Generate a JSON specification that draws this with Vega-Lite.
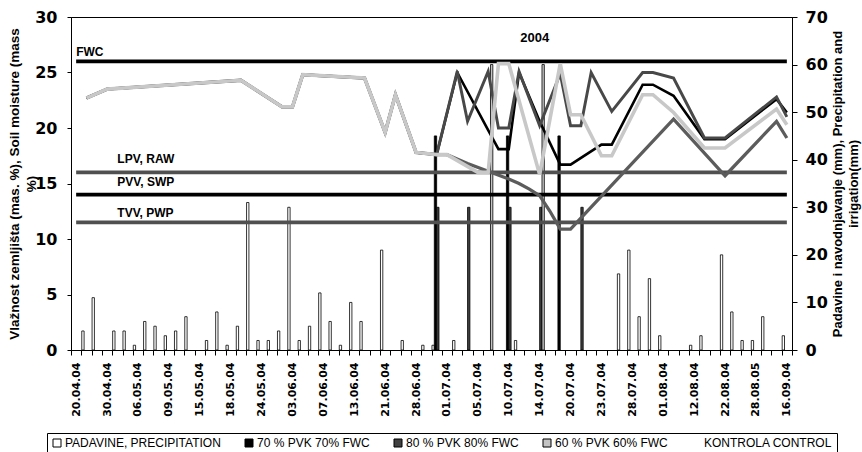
{
  "$schema": "https://vega.github.io/schema/vega-lite/v6.json",
  "width": 721,
  "height": 333,
  "autosize": {"type": "none"},
  "padding": {"left": 71, "top": 17, "right": 70, "bottom": 102},
  "config": {
    "font": "Liberation Sans",
    "view": {"stroke": "black", "strokeWidth": 1},
    "axis": {
      "grid": false,
      "domainColor": "black",
      "tickColor": "black",
      "labelColor": "black",
      "titleColor": "black",
      "labelFont": "DejaVu Sans",
      "titleFont": "Liberation Sans",
      "labelFontWeight": "bold",
      "titleFontWeight": "bold"
    }
  },
  "data": {
    "values": [
      {"i": 0, "d": "20.04.04"},
      {"i": 1, "d": "25.04.04", "p": 4, "m70": 22.7, "m80": 22.7, "m60": 22.7, "mk": 22.7},
      {"i": 2, "d": "27.04.04", "p": 11},
      {"i": 3, "d": "30.04.04", "m70": 23.5, "m80": 23.5, "m60": 23.5, "mk": 23.5},
      {"i": 4, "d": "02.05.04", "p": 4},
      {"i": 5, "d": "04.05.04", "p": 4},
      {"i": 6, "d": "06.05.04", "p": 1},
      {"i": 7, "d": "07.05.04", "p": 6},
      {"i": 8, "d": "08.05.04", "p": 5},
      {"i": 9, "d": "09.05.04", "p": 3},
      {"i": 10, "d": "11.05.04", "p": 4},
      {"i": 11, "d": "13.05.04", "p": 7},
      {"i": 12, "d": "15.05.04"},
      {"i": 13, "d": "16.05.04", "p": 2},
      {"i": 14, "d": "17.05.04", "p": 8},
      {"i": 15, "d": "18.05.04", "p": 1},
      {"i": 16, "d": "20.05.04", "p": 5, "m70": 24.3, "m80": 24.3, "m60": 24.3, "mk": 24.3},
      {"i": 17, "d": "22.05.04", "p": 31},
      {"i": 18, "d": "24.05.04", "p": 2},
      {"i": 19, "d": "27.05.04", "p": 2},
      {"i": 20, "d": "31.05.04", "p": 4, "m70": 21.9, "m80": 21.9, "m60": 21.9, "mk": 21.9},
      {"i": 21, "d": "03.06.04", "p": 30, "m70": 21.9, "m80": 21.9, "m60": 21.9, "mk": 21.9},
      {"i": 22, "d": "04.06.04", "p": 2, "m70": 24.8, "m80": 24.8, "m60": 24.8, "mk": 24.8},
      {"i": 23, "d": "05.06.04", "p": 5},
      {"i": 24, "d": "07.06.04", "p": 12},
      {"i": 25, "d": "09.06.04", "p": 6},
      {"i": 26, "d": "11.06.04", "p": 1},
      {"i": 27, "d": "13.06.04", "p": 10},
      {"i": 28, "d": "16.06.04", "p": 6, "m70": 24.5, "m80": 24.5, "m60": 24.5, "mk": 24.5},
      {"i": 29, "d": "19.06.04"},
      {"i": 30, "d": "21.06.04", "p": 21, "m70": 19.6, "m80": 19.6, "m60": 19.6, "mk": 19.6},
      {"i": 31, "d": "24.06.04", "m70": 23.0, "m80": 23.0, "m60": 23.0, "mk": 23.0},
      {"i": 32, "d": "26.06.04", "p": 2},
      {"i": 33, "d": "28.06.04", "m70": 17.8, "m80": 17.8, "m60": 17.8, "mk": 17.8},
      {"i": 34, "d": "29.06.04", "p": 1},
      {"i": 35, "d": "30.06.04", "p": 1, "b70": 45, "b80": 30, "m70": 17.6, "m80": 17.6, "m60": 17.6, "mk": 17.6},
      {"i": 36, "d": "01.07.04", "m60": 17.6, "mk": 17.6},
      {"i": 37, "d": "03.07.04", "p": 2, "m70": 25.0, "m80": 25.1},
      {"i": 38, "d": "04.07.04", "b80": 30, "m80": 20.6, "mk": 16.8},
      {"i": 39, "d": "05.07.04", "m60": 16.0},
      {"i": 40, "d": "07.07.04", "b60": 60, "m70": 19.8, "m80": 25.1, "m60": 16.0, "mk": 16.1},
      {"i": 41, "d": "08.07.04", "m70": 18.1, "m80": 20.0, "m60": 25.8},
      {"i": 42, "d": "10.07.04", "b70": 45, "b80": 30, "m70": 18.1, "m80": 20.0, "m60": 25.8, "mk": 15.4},
      {"i": 43, "d": "11.07.04", "p": 2, "m70": 25.0, "m80": 25.1, "mk": 15.0},
      {"i": 44, "d": "13.07.04", "mk": 14.5},
      {"i": 45, "d": "14.07.04", "b80": 30, "b60": 60, "m70": 20.6, "m80": 20.2, "m60": 15.8, "mk": 13.9},
      {"i": 46, "d": "16.07.04", "mk": 12.5},
      {"i": 47, "d": "18.07.04", "b70": 45, "m70": 16.7, "m80": 24.9, "m60": 25.8, "mk": 10.9},
      {"i": 48, "d": "20.07.04", "m70": 16.7, "m80": 20.2, "m60": 21.2, "mk": 10.9},
      {"i": 49, "d": "21.07.04", "b80": 30, "m80": 20.2, "m60": 21.2},
      {"i": 50, "d": "22.07.04", "m80": 25.0},
      {"i": 51, "d": "23.07.04", "m70": 18.5, "m60": 17.5},
      {"i": 52, "d": "25.07.04", "m70": 18.5, "m80": 21.5, "m60": 17.5},
      {"i": 53, "d": "27.07.04", "p": 16},
      {"i": 54, "d": "28.07.04", "p": 21},
      {"i": 55, "d": "29.07.04", "p": 7, "m70": 23.9, "m80": 25.0, "m60": 23.0},
      {"i": 56, "d": "30.07.04", "p": 15, "m70": 23.9, "m80": 25.0, "m60": 23.0},
      {"i": 57, "d": "01.08.04", "p": 3},
      {"i": 58, "d": "04.08.04", "m70": 22.9, "m80": 24.5, "m60": 21.4, "mk": 20.8},
      {"i": 59, "d": "08.08.04"},
      {"i": 60, "d": "12.08.04", "p": 1},
      {"i": 61, "d": "15.08.04", "p": 3, "m70": 19.0, "m80": 19.1, "m60": 18.2},
      {"i": 62, "d": "19.08.04"},
      {"i": 63, "d": "22.08.04", "p": 20, "m70": 19.0, "m80": 19.1, "m60": 18.2, "mk": 15.7},
      {"i": 64, "d": "24.08.04", "p": 8},
      {"i": 65, "d": "26.08.04", "p": 2},
      {"i": 66, "d": "28.08.05", "p": 2},
      {"i": 67, "d": "02.09.04", "p": 7},
      {"i": 68, "d": "09.09.04", "m70": 22.6, "m80": 22.8, "m60": 21.7, "mk": 20.6},
      {"i": 69, "d": "16.09.04", "p": 3, "m70": 21.4, "m80": 21.0, "m60": 20.3, "mk": 19.1}
    ]
  },
  "layer": [
    {
      "transform": [{"fold": ["p", "b70", "b80", "b60"], "as": ["s", "mm"]}],
      "mark": {"type": "bar", "stroke": "black", "strokeWidth": 0.8, "invalid": "break-paths-show-domains"},
      "encoding": {
        "x": {
          "field": "d",
          "type": "ordinal",
          "sort": {"field": "i", "op": "min"},
          "scale": {"paddingInner": 0, "paddingOuter": 0},
          "axis": {
            "title": null,
            "tickBand": "extent",
            "tickSize": 5,
            "labelAngle": -90,
            "labelAlign": "right",
            "labelBaseline": "middle",
            "labelFontSize": 11,
            "labelPadding": 7,
            "labelOverlap": false,
            "labelExpr": "round(datum.index * 69) % 3 == 0 ? datum.label : ''"
          }
        },
        "xOffset": {
          "field": "s",
          "scale": {"domain": ["p", "b70", "b80", "b60"], "paddingInner": 0, "paddingOuter": 0.2}
        },
        "y": {
          "field": "mm",
          "type": "quantitative",
          "scale": {"domain": [0, 70]},
          "axis": {
            "orient": "right",
            "values": [0, 10, 20, 30, 40, 50, 60, 70],
            "tickSize": 5,
            "labelFontSize": 16,
            "labelPadding": 8,
            "title": ["Padavine i navodnjavanje (mm), Precipitation and", "irrigation(mm)"],
            "titleFontSize": 13,
            "titleLineHeight": 16,
            "titleAngle": 270,
            "titleBaseline": "top",
            "titlePadding": -12
          }
        },
        "fill": {
          "field": "s",
          "scale": {
            "domain": ["p", "b70", "b80", "b60", "k"],
            "range": ["white", "black", "#404040", "#c4c4c4", "transparent"]
          },
          "legend": {
            "title": null,
            "orient": "none",
            "legendX": -24,
            "legendY": 416,
            "direction": "horizontal",
            "symbolType": "square",
            "symbolSize": 64,
            "symbolStrokeWidth": 1,
            "symbolStrokeColor": "black",
            "labelFontSize": 12,
            "labelFont": "Liberation Sans",
            "labelColor": "black",
            "labelOffset": 2,
            "columnPadding": 22,
            "strokeColor": "black",
            "padding": 4,
            "labelExpr": "{'p': 'PADAVINE, PRECIPITATION', 'b70': '70 % PVK 70% FWC', 'b80': '80 % PVK 80% FWC', 'b60': '60 % PVK 60% FWC', 'k': 'KONTROLA CONTROL'}[datum.label]",
            "encode": {
              "symbols": {
                "update": {
                  "strokeOpacity": {"signal": "datum.value == 'k' ? 0 : 1"},
                  "opacity": {"signal": "datum.value == 'k' ? 0 : 1"}
                }
              }
            }
          }
        }
      }
    },
    {
      "layer": [
        {
          "data": {
            "values": [
              {"i": 0, "d": "20.04.04", "name": "FWC", "v": 26},
              {"i": 69, "d": "16.09.04", "name": "FWC", "v": 26},
              {"i": 0, "d": "20.04.04", "name": "LPV, RAW", "v": 16},
              {"i": 69, "d": "16.09.04", "name": "LPV, RAW", "v": 16},
              {"i": 0, "d": "20.04.04", "name": "PVV, SWP", "v": 14},
              {"i": 69, "d": "16.09.04", "name": "PVV, SWP", "v": 14},
              {"i": 0, "d": "20.04.04", "name": "TVV, PWP", "v": 11.5},
              {"i": 69, "d": "16.09.04", "name": "TVV, PWP", "v": 11.5}
            ]
          },
          "mark": {"type": "line", "strokeWidth": 3.6},
          "encoding": {
            "x": {"field": "d", "type": "ordinal", "sort": {"field": "i", "op": "min"}},
            "y": {
              "field": "v",
              "type": "quantitative",
              "scale": {"domain": [0, 30]},
              "axis": {
                "values": [0, 5, 10, 15, 20, 25, 30],
                "tickSize": 4,
                "labelFontSize": 16,
                "labelPadding": 10,
                "title": ["Vlažnost zemljišta  (mas. %), Soil moisture (mass", "%)"],
                "titleFontSize": 13.5,
                "titleLineHeight": 17,
                "titleAngle": 270,
                "titleBaseline": "bottom",
                "titlePadding": -4
              }
            },
            "detail": {"field": "name"},
            "stroke": {
              "field": "name",
              "scale": {"domain": ["FWC", "LPV, RAW", "PVV, SWP", "TVV, PWP"], "range": ["black", "#505050", "black", "#505050"]},
              "legend": null
            }
          }
        },
        {
          "transform": [{"fold": ["m70", "m80", "mk", "m60"], "as": ["s", "pct"]}],
          "mark": {"type": "line", "invalid": "filter", "strokeJoin": "miter"},
          "encoding": {
            "x": {"field": "d", "type": "ordinal", "sort": {"field": "i", "op": "min"}},
            "y": {"field": "pct", "type": "quantitative", "title": ["Vlažnost zemljišta  (mas. %), Soil moisture (mass", "%)"]},
            "color": {
              "field": "s",
              "scale": {"domain": ["m70", "m80", "mk", "m60"], "range": ["black", "#484848", "#5c5c5c", "#c8c8c8"]},
              "legend": null
            },
            "strokeWidth": {
              "field": "s",
              "scale": {"domain": ["m70", "m80", "mk", "m60"], "range": [2.6, 3.6, 1.6, 2.6]},
              "legend": null
            }
          }
        },
        {
          "data": {
            "values": [
              {"i": 0, "d": "20.04.04", "name": "FWC", "v": 26},
              {"i": 4, "d": "02.05.04", "name": "TVV, PWP", "v": 11.5}
            ]
          },
          "mark": {"type": "text", "align": "left", "baseline": "alphabetic", "fontWeight": "bold", "fontSize": 12, "dy": -5, "color": "black"},
          "encoding": {
            "x": {"field": "d", "type": "ordinal", "sort": {"field": "i", "op": "min"}},
            "y": {"field": "v", "type": "quantitative", "title": ["Vlažnost zemljišta  (mas. %), Soil moisture (mass", "%)"]},
            "text": {"field": "name"}
          }
        },
        {
          "data": {
            "values": [
              {"i": 4, "d": "02.05.04", "name": "LPV, RAW", "v": 16},
              {"i": 4, "d": "02.05.04", "name": "PVV, SWP", "v": 14}
            ]
          },
          "mark": {"type": "text", "align": "left", "baseline": "alphabetic", "fontWeight": "bold", "fontSize": 12, "dy": -9, "color": "black"},
          "encoding": {
            "x": {"field": "d", "type": "ordinal", "sort": {"field": "i", "op": "min"}},
            "y": {"field": "v", "type": "quantitative", "title": ["Vlažnost zemljišta  (mas. %), Soil moisture (mass", "%)"]},
            "text": {"field": "name"}
          }
        },
        {
          "data": {"values": [{"i": 44, "d": "13.07.04", "name": "2004", "v": 28}]},
          "mark": {"type": "text", "align": "left", "baseline": "alphabetic", "fontWeight": "bold", "fontSize": 13, "dx": -9, "dy": 3, "color": "black"},
          "encoding": {
            "x": {"field": "d", "type": "ordinal", "sort": {"field": "i", "op": "min"}},
            "y": {"field": "v", "type": "quantitative", "title": ["Vlažnost zemljišta  (mas. %), Soil moisture (mass", "%)"]},
            "text": {"field": "name"}
          }
        }
      ]
    }
  ],
  "resolve": {"scale": {"y": "independent", "color": "independent", "stroke": "independent"}}
}
